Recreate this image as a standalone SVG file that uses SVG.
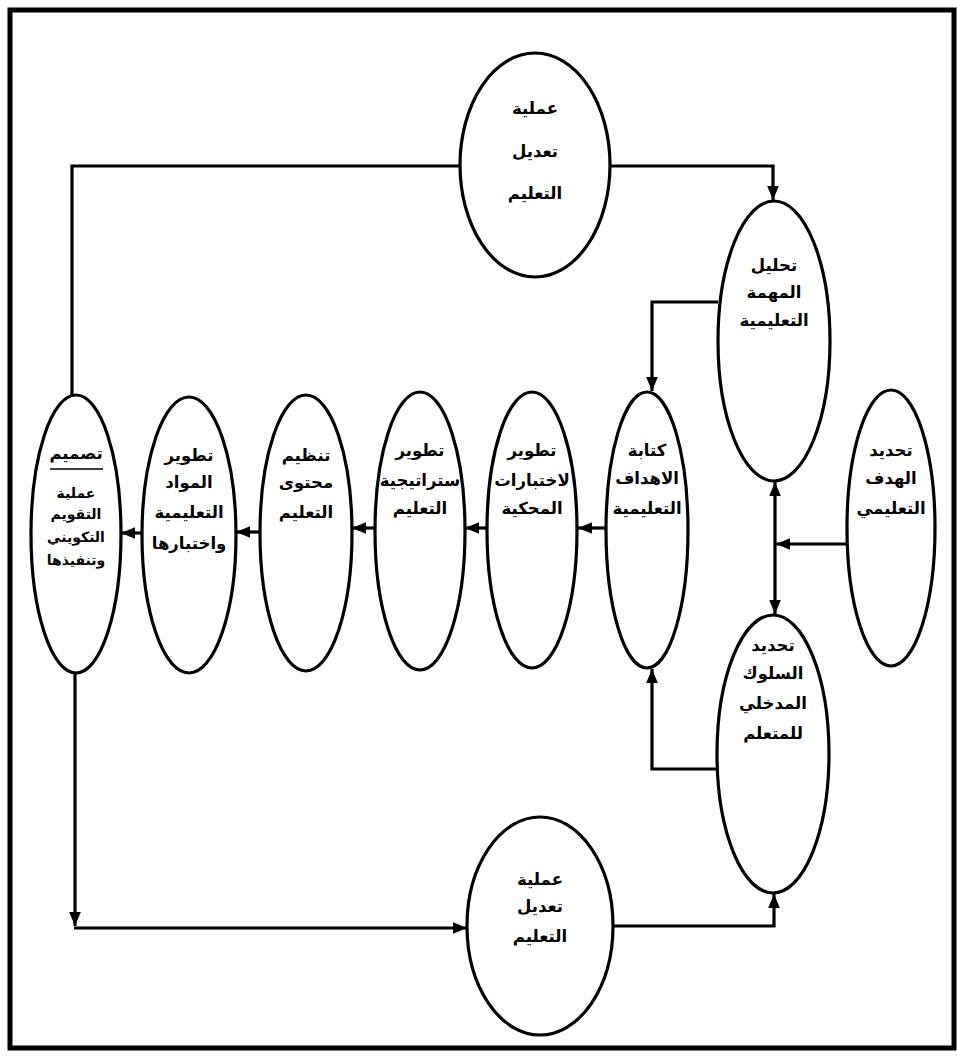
<svg xmlns="http://www.w3.org/2000/svg" width="957" height="1056" viewBox="0 0 957 1056">
<defs>
<marker id="ah" viewBox="0 0 12 10" refX="12" refY="5" markerWidth="14" markerHeight="12" markerUnits="userSpaceOnUse" orient="auto-start-reverse">
<path d="M0,0 L12,5 L0,10 Z" fill="#000"/>
</marker>
<style>
.n ellipse{fill:#fff;stroke:#000;stroke-width:3.2}
.n text{font-family:"DejaVu Sans","Noto Sans",sans-serif;font-weight:bold;font-size:16.5px;text-anchor:middle;fill:#000}
.n text.s{font-size:14px}
#connectors path,#connectors line{fill:none;stroke:#000;stroke-width:3.2}
</style>
</defs>
<rect x="0" y="0" width="957" height="1056" fill="#fff"/>
<rect x="10" y="10" width="944" height="1038" fill="none" stroke="#000" stroke-width="5"/>

<g id="connectors">
<path d="M460,166 H72 V395"/>
<path d="M610,166 H773 V200" marker-end="url(#ah)"/>
<path d="M718,302 H652 V391" marker-end="url(#ah)"/>
<line x1="775" y1="482" x2="775" y2="614" marker-start="url(#ah)" marker-end="url(#ah)"/>
<path d="M847,544 H776" marker-end="url(#ah)"/>
<path d="M717,769 H652 V669" marker-end="url(#ah)"/>
<path d="M606,528 H578" marker-end="url(#ah)"/>
<path d="M487,528 H465" marker-end="url(#ah)"/>
<path d="M375,528 H352" marker-end="url(#ah)"/>
<path d="M260,532 H236" marker-end="url(#ah)"/>
<path d="M142,533 H121" marker-end="url(#ah)"/>
<path d="M75,673 V926" marker-end="url(#ah)"/>
<path d="M74,928 H467" marker-end="url(#ah)"/>
<path d="M612,926 H774 V894" marker-end="url(#ah)"/>
</g>

<g id="n-top" class="n">
<ellipse cx="535" cy="165" rx="75" ry="112"/>
<text x="535" y="114">عملية</text>
<text x="535" y="157">تعديل</text>
<text x="535" y="199">التعليم</text>
</g>

<g id="n-tahlil" class="n">
<ellipse cx="774" cy="341" rx="56" ry="140"/>
<text x="774" y="271">تحليل</text>
<text x="774" y="298">المهمة</text>
<text x="774" y="326">التعليمية</text>
</g>

<g id="n-kitaba" class="n">
<ellipse cx="647" cy="530" rx="41" ry="138"/>
<text x="647" y="456">كتابة</text>
<text x="647" y="484">الاهداف</text>
<text x="647" y="514">التعليمية</text>
</g>

<g id="n-hadaf" class="n">
<ellipse cx="891" cy="528" rx="44" ry="138"/>
<text x="891" y="456">تحديد</text>
<text x="891" y="484">الهدف</text>
<text x="891" y="514">التعليمي</text>
</g>

<g id="n-suluk" class="n">
<ellipse cx="773" cy="754" rx="56" ry="139"/>
<text x="773" y="651">تحديد</text>
<text x="773" y="679">السلوك</text>
<text x="773" y="709">المدخلي</text>
<text x="773" y="739">للمتعلم</text>
</g>

<g id="n-ikhtibarat" class="n">
<ellipse cx="532" cy="530" rx="45" ry="138"/>
<text x="532" y="456">تطوير</text>
<text x="532" y="486">لاختبارات</text>
<text x="532" y="514">المحكية</text>
</g>

<g id="n-istratijiya" class="n">
<ellipse cx="420" cy="531" rx="45" ry="139"/>
<text x="420" y="456">تطوير</text>
<text x="420" y="486">ستراتيجية</text>
<text x="420" y="514">التعليم</text>
</g>

<g id="n-tanzim" class="n">
<ellipse cx="306" cy="533" rx="46" ry="138"/>
<text x="306" y="461">تنظيم</text>
<text x="306" y="488">محتوى</text>
<text x="306" y="518">التعليم</text>
</g>

<g id="n-mawad" class="n">
<ellipse cx="189" cy="535" rx="47" ry="138"/>
<text x="189" y="461">تطوير</text>
<text x="189" y="488">المواد</text>
<text x="189" y="518">التعليمية</text>
<text x="189" y="549">واختبارها</text>
</g>

<g id="n-tasmim" class="n">
<ellipse cx="76" cy="534" rx="45" ry="139"/>
<text x="76" y="459">تصميم</text>
<line x1="50" y1="469" x2="103" y2="469" stroke="#000" stroke-width="1.5"/>
<text class="s" x="76" y="498">عملية</text>
<text class="s" x="76" y="519">التقويم</text>
<text class="s" x="76" y="542">التكويني</text>
<text class="s" x="76" y="565">وتنفيذها</text>
</g>

<g id="n-bottom" class="n">
<ellipse cx="540" cy="926" rx="73" ry="109"/>
<text x="540" y="885">عملية</text>
<text x="540" y="912">تعديل</text>
<text x="540" y="942">التعليم</text>
</g>
</svg>
